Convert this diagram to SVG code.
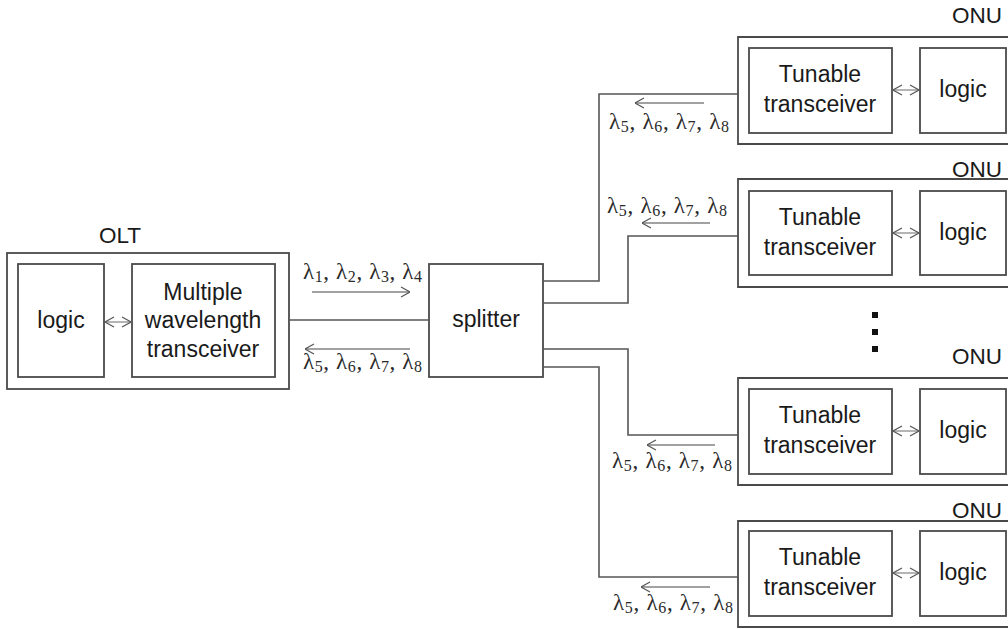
<svg xmlns="http://www.w3.org/2000/svg" width="1008" height="629" viewBox="0 0 1008 629">
  <style>
    .box { fill: #fff; stroke: #4a4a4a; stroke-width: 1.8; }
    .lbl { font-family: "Liberation Sans", Arial, sans-serif; font-size: 23px; fill: #1a1a1a; text-anchor: middle; }
    .title { font-family: "Liberation Sans", Arial, sans-serif; font-size: 22.5px; fill: #1a1a1a; }
    .lam { font-family: "Liberation Serif", "Times New Roman", serif; font-size: 23px; fill: #2a2a2a; }
    .sub { font-size: 16px; }
    .fiber { fill: none; stroke: #555; stroke-width: 1.6; }
    .dir { fill: none; stroke: #444; stroke-width: 1.1; }
    .bi { fill: none; stroke: #777; stroke-width: 1.1; }
  </style>
  <defs>
    <marker id="head" viewBox="0 0 10 12" refX="10" refY="6" markerWidth="10" markerHeight="12" markerUnits="userSpaceOnUse" orient="auto-start-reverse">
      <path d="M1,1 L10,6 L1,11" fill="none" stroke="#555" stroke-width="1.1"/>
    </marker>
  </defs>
  <rect width="1008" height="629" fill="#fff"/>

  <!-- OLT -->
  <g id="olt">
    <text class="title" x="120" y="243" text-anchor="middle">OLT</text>
    <rect class="box" x="7" y="253" width="282" height="136"/>
    <rect class="box" x="18" y="264" width="86" height="113"/>
    <text class="lbl" x="61" y="328">logic</text>
    <rect class="box" x="132" y="264" width="143" height="113"/>
    <text class="lbl" x="203" y="300">Multiple</text>
    <text class="lbl" x="203" y="328">wavelength</text>
    <text class="lbl" x="203" y="357">transceiver</text>
    <line class="bi" x1="105" y1="322" x2="131" y2="322" marker-start="url(#head)" marker-end="url(#head)"/>
  </g>

  <!-- splitter -->
  <g id="splitter">
    <rect class="box" x="429" y="264" width="114" height="113"/>
    <text class="lbl" x="486" y="327">splitter</text>
  </g>

  <!-- ONU 1 -->
  <g id="onu1">
    <text class="title" x="1002" y="23" text-anchor="end">ONU</text>
    <path class="box" d="M1010,37 H738 V144 H1010"/>
    <rect class="box" x="749" y="48" width="143" height="85"/>
    <text class="lbl" x="820" y="82">Tunable</text>
    <text class="lbl" x="820" y="112">transceiver</text>
    <rect class="box" x="920" y="48" width="86" height="85"/>
    <text class="lbl" x="963" y="97">logic</text>
    <line class="bi" x1="893" y1="90" x2="919" y2="90" marker-start="url(#head)" marker-end="url(#head)"/>
  </g>

  <!-- ONU 2 -->
  <g id="onu2">
    <text class="title" x="1002" y="177" text-anchor="end">ONU</text>
    <path class="box" d="M1010,179 H738 V287 H1010"/>
    <rect class="box" x="749" y="191" width="143" height="84"/>
    <text class="lbl" x="820" y="225">Tunable</text>
    <text class="lbl" x="820" y="255">transceiver</text>
    <rect class="box" x="920" y="191" width="86" height="84"/>
    <text class="lbl" x="963" y="240">logic</text>
    <line class="bi" x1="893" y1="233" x2="919" y2="233" marker-start="url(#head)" marker-end="url(#head)"/>
  </g>

  <!-- ONU 3 -->
  <g id="onu3">
    <text class="title" x="1002" y="364" text-anchor="end">ONU</text>
    <path class="box" d="M1010,378 H738 V485 H1010"/>
    <rect class="box" x="749" y="389" width="143" height="85"/>
    <text class="lbl" x="820" y="423">Tunable</text>
    <text class="lbl" x="820" y="453">transceiver</text>
    <rect class="box" x="920" y="389" width="86" height="85"/>
    <text class="lbl" x="963" y="438">logic</text>
    <line class="bi" x1="893" y1="431" x2="919" y2="431" marker-start="url(#head)" marker-end="url(#head)"/>
  </g>

  <!-- ONU 4 -->
  <g id="onu4">
    <text class="title" x="1002" y="518" text-anchor="end">ONU</text>
    <path class="box" d="M1010,521 H738 V627 H1010"/>
    <rect class="box" x="749" y="531" width="143" height="85"/>
    <text class="lbl" x="820" y="565">Tunable</text>
    <text class="lbl" x="820" y="595">transceiver</text>
    <rect class="box" x="920" y="531" width="86" height="85"/>
    <text class="lbl" x="963" y="580">logic</text>
    <line class="bi" x1="893" y1="573" x2="919" y2="573" marker-start="url(#head)" marker-end="url(#head)"/>
  </g>

  <!-- ellipsis between ONUs -->
  <g id="more" fill="#111">
    <rect x="872" y="312" width="6" height="6"/>
    <rect x="872" y="329" width="6" height="6"/>
    <rect x="872" y="346" width="6" height="6"/>
  </g>

  <!-- fibres -->
  <g id="connectors">
    <line class="fiber" x1="289" y1="320" x2="429" y2="320"/>
    <path class="fiber" d="M543,281 H599 V94 H738"/>
    <path class="fiber" d="M543,303 H628 V236 H738"/>
    <path class="fiber" d="M543,349 H628 V435 H738"/>
    <path class="fiber" d="M543,367 H599 V577 H738"/>

    <!-- direction arrows -->
    <line class="dir" x1="312" y1="292" x2="410" y2="292" marker-end="url(#head)"/>
    <line class="dir" x1="410" y1="349" x2="305" y2="349" marker-end="url(#head)"/>
    <line class="dir" x1="704" y1="103" x2="635" y2="103" marker-end="url(#head)"/>
    <line class="dir" x1="710" y1="223" x2="642" y2="223" marker-end="url(#head)"/>
    <line class="dir" x1="715" y1="445" x2="647" y2="445" marker-end="url(#head)"/>
    <line class="dir" x1="710" y1="587" x2="641" y2="587" marker-end="url(#head)"/>
  </g>

  <!-- wavelength labels -->
  <g id="wavelengths">
    <text class="lam" x="303" y="279" textLength="119">λ<tspan class="sub" dy="3">1</tspan><tspan dy="-3">, λ</tspan><tspan class="sub" dy="3">2</tspan><tspan dy="-3">, λ</tspan><tspan class="sub" dy="3">3</tspan><tspan dy="-3">, λ</tspan><tspan class="sub" dy="3">4</tspan></text>
    <text class="lam" x="303" y="369" textLength="119">λ<tspan class="sub" dy="3">5</tspan><tspan dy="-3">, λ</tspan><tspan class="sub" dy="3">6</tspan><tspan dy="-3">, λ</tspan><tspan class="sub" dy="3">7</tspan><tspan dy="-3">, λ</tspan><tspan class="sub" dy="3">8</tspan></text>
    <text class="lam" x="609" y="129" textLength="120">λ<tspan class="sub" dy="3">5</tspan><tspan dy="-3">, λ</tspan><tspan class="sub" dy="3">6</tspan><tspan dy="-3">, λ</tspan><tspan class="sub" dy="3">7</tspan><tspan dy="-3">, λ</tspan><tspan class="sub" dy="3">8</tspan></text>
    <text class="lam" x="607" y="213" textLength="120">λ<tspan class="sub" dy="3">5</tspan><tspan dy="-3">, λ</tspan><tspan class="sub" dy="3">6</tspan><tspan dy="-3">, λ</tspan><tspan class="sub" dy="3">7</tspan><tspan dy="-3">, λ</tspan><tspan class="sub" dy="3">8</tspan></text>
    <text class="lam" x="612" y="468" textLength="120">λ<tspan class="sub" dy="3">5</tspan><tspan dy="-3">, λ</tspan><tspan class="sub" dy="3">6</tspan><tspan dy="-3">, λ</tspan><tspan class="sub" dy="3">7</tspan><tspan dy="-3">, λ</tspan><tspan class="sub" dy="3">8</tspan></text>
    <text class="lam" x="613" y="610" textLength="120">λ<tspan class="sub" dy="3">5</tspan><tspan dy="-3">, λ</tspan><tspan class="sub" dy="3">6</tspan><tspan dy="-3">, λ</tspan><tspan class="sub" dy="3">7</tspan><tspan dy="-3">, λ</tspan><tspan class="sub" dy="3">8</tspan></text>
  </g>
</svg>
